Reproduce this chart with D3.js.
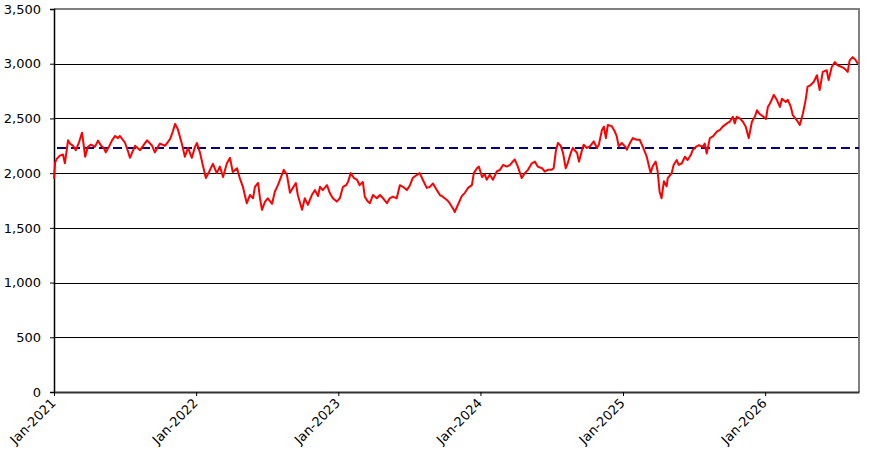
<!DOCTYPE html>
<html><head><meta charset="utf-8">
<script src="https://cdn.jsdelivr.net/npm/d3@7"></script>
<style>body{margin:0;background:#fff}svg{display:block}text{font-family:"DejaVu Sans",Verdana,sans-serif}</style>
</head><body><svg id="c" width="883" height="467"></svg>
<script>
const dates = ["2021-01-01","2021-01-04","2021-01-08","2021-01-16","2021-01-24","2021-01-29","2021-02-06","2021-02-11","2021-02-19","2021-02-26","2021-03-06","2021-03-14","2021-03-22","2021-03-29","2021-04-06","2021-04-16","2021-04-24","2021-05-02","2021-05-09","2021-05-14","2021-05-22","2021-05-30","2021-06-07","2021-06-14","2021-06-19","2021-07-02","2021-07-10","2021-07-15","2021-07-28","2021-08-10","2021-08-20","2021-08-28","2021-09-10","2021-09-17","2021-09-30","2021-10-13","2021-10-26","2021-11-02","2021-11-08","2021-11-15","2021-11-26","2021-12-03","2021-12-11","2021-12-21","2021-12-29",
"2022-01-03","2022-01-11","2022-01-18","2022-01-26","2022-02-03","2022-02-13","2022-02-23","2022-03-03","2022-03-11","2022-03-21","2022-03-29","2022-04-05","2022-04-16","2022-04-23","2022-05-01","2022-05-11","2022-05-19","2022-05-27","2022-06-01","2022-06-09","2022-06-14","2022-06-19","2022-06-27","2022-07-04","2022-07-15","2022-07-22","2022-07-30","2022-08-09","2022-08-14","2022-08-22","2022-08-30","2022-09-06","2022-09-14","2022-09-19","2022-09-30","2022-10-07","2022-10-15","2022-10-25","2022-11-02","2022-11-10","2022-11-15","2022-11-22","2022-12-03","2022-12-10","2022-12-18","2022-12-28",
"2023-01-05","2023-01-13","2023-01-21","2023-01-26","2023-02-02","2023-02-10","2023-02-18","2023-02-25","2023-03-05","2023-03-10","2023-03-18","2023-03-23","2023-03-31","2023-04-10","2023-04-18","2023-04-26","2023-05-06","2023-05-13","2023-05-21","2023-05-31","2023-06-08","2023-06-16","2023-06-26","2023-07-04","2023-07-11","2023-07-22","2023-07-29","2023-08-06","2023-08-16","2023-08-24","2023-09-01","2023-09-11","2023-09-19","2023-09-26","2023-10-07","2023-10-14","2023-10-22","2023-10-27","2023-11-04","2023-11-14","2023-11-22","2023-11-30","2023-12-10","2023-12-15","2023-12-23","2023-12-28",
"2024-01-05","2024-01-12","2024-01-17","2024-01-25","2024-02-02","2024-02-12","2024-02-20","2024-02-28","2024-03-09","2024-03-17","2024-03-24","2024-03-29","2024-04-06","2024-04-16","2024-04-24","2024-05-02","2024-05-12","2024-05-20","2024-05-27","2024-06-07","2024-06-14","2024-06-22","2024-07-02","2024-07-07","2024-07-13","2024-07-18","2024-07-25","2024-07-31","2024-08-07","2024-08-12","2024-08-20","2024-08-25","2024-09-05","2024-09-10","2024-09-17","2024-09-22","2024-09-30","2024-10-08","2024-10-18","2024-10-26","2024-10-31","2024-11-08","2024-11-13","2024-11-18","2024-11-23","2024-12-03","2024-12-11","2024-12-16","2024-12-21","2024-12-29",
"2025-01-06","2025-01-11","2025-01-19","2025-01-26","2025-02-05","2025-02-13","2025-02-21","2025-03-03","2025-03-13","2025-03-18","2025-03-26","2025-03-31","2025-04-05","2025-04-10","2025-04-16","2025-04-23","2025-04-26","2025-05-06","2025-05-11","2025-05-19","2025-05-24","2025-06-01","2025-06-09","2025-06-16","2025-06-24","2025-06-29","2025-07-07","2025-07-15","2025-07-25","2025-07-30","2025-08-04","2025-08-12","2025-08-20","2025-08-30","2025-09-07","2025-09-14","2025-09-25","2025-10-02","2025-10-10","2025-10-15","2025-10-20","2025-10-28","2025-11-05","2025-11-12","2025-11-20","2025-11-28","2025-12-06","2025-12-11","2025-12-18","2025-12-26",
"2026-01-03","2026-01-08","2026-01-13","2026-01-18","2026-01-23","2026-01-31","2026-02-08","2026-02-13","2026-02-23","2026-02-28","2026-03-08","2026-03-13","2026-03-23","2026-03-31","2026-04-08","2026-04-15","2026-04-20","2026-04-28","2026-05-06","2026-05-14","2026-05-21","2026-05-29","2026-06-08","2026-06-13","2026-06-21","2026-06-29","2026-07-06","2026-07-17","2026-07-24","2026-08-01","2026-08-06","2026-08-14","2026-08-22","2026-08-27"];
const values = [1950,2100,2130,2160,2170,2090,2300,2270,2250,2210,2280,2370,2150,2240,2260,2240,2297,2250,2230,2190,2240,2300,2340,2320,2340,2280,2200,2140,2250,2210,2260,2300,2250,2190,2270,2250,2310,2380,2450,2400,2260,2150,2230,2140,2240,
2275,2185,2075,1955,2010,2085,2000,2060,1965,2090,2140,2010,2045,1955,1875,1725,1800,1770,1875,1910,1770,1665,1740,1770,1720,1830,1890,1985,2030,1985,1820,1865,1910,1800,1665,1770,1710,1800,1845,1790,1875,1845,1890,1820,1770,1740,
1770,1875,1890,1920,2000,1955,1940,1890,1920,1785,1740,1725,1800,1770,1800,1770,1725,1770,1785,1770,1890,1875,1845,1890,1955,1985,2000,1940,1865,1875,1905,1845,1800,1785,1755,1725,1680,1645,1710,1790,1820,1865,1890,2000,2045,2060,
1965,1990,1940,1985,1940,2015,2030,2075,2060,2075,2105,2125,2060,1955,2000,2030,2090,2105,2060,2045,2015,2030,2030,2045,2210,2275,2250,2185,2045,2090,2185,2230,2185,2105,2200,2260,2230,2245,2290,2230,2260,2395,2425,2320,2440,2430,2380,2335,2245,2275,
2245,2215,2275,2320,2305,2305,2240,2150,2000,2060,2105,2015,1830,1770,1925,1880,1955,2000,2075,2120,2075,2090,2150,2120,2165,2210,2240,2255,2240,2270,2180,2320,2335,2380,2395,2425,2455,2470,2515,2455,2515,2500,2470,2425,2320,2470,2520,2575,2540,2520,
2495,2605,2635,2670,2715,2670,2605,2680,2650,2670,2605,2530,2485,2440,2545,2670,2790,2805,2835,2895,2760,2925,2940,2850,2970,3015,2985,2970,2955,2925,3030,3060,3030,3000];
const referenceLevel = 2230;
const yTicks = [0,500,1000,1500,2000,2500,3000,3500];
const xTickLabels = ["Jan-2021","Jan-2022","Jan-2023","Jan-2024","Jan-2025","Jan-2026"];
const xTickDates = ["2021-01-01","2022-01-01","2023-01-01","2024-01-01","2025-01-01","2026-01-01"];
const domainStart = "2021-01-01", domainEnd = "2026-08-30";

const parse = d3.utcParse("%Y-%m-%d");
const data = dates.map((d,i)=>({date:parse(d), value:values[i]}));
const svg = d3.select("#c");
const L=54, R=859, T=9, B=392;
const x = d3.scaleUtc().domain([parse(domainStart), parse(domainEnd)]).range([L,R]);
const y = d3.scaleLinear().domain([0,3500]).range([B,T]);

// gridlines
svg.append("g").selectAll("line").data(yTicks.filter(v=>v>0 && v<3500)).join("line")
  .attr("x1",L).attr("x2",R).attr("y1",d=>Math.round(y(d))+0.5).attr("y2",d=>Math.round(y(d))+0.5)
  .attr("stroke","#000").attr("stroke-width",1);
// top & right frame
svg.append("line").attr("x1",L).attr("x2",R+1).attr("y1",y(3500)).attr("y2",y(3500)).attr("stroke","#808080").attr("stroke-width",2);
svg.append("line").attr("x1",R).attr("x2",R).attr("y1",y(3500)).attr("y2",B).attr("stroke","#808080").attr("stroke-width",2);

// y axis
const ya = svg.append("g").attr("transform",`translate(${L},0)`)
  .call(d3.axisLeft(y).tickValues(yTicks).tickFormat(d3.format(",")).tickSize(4).tickPadding(9));
ya.select(".domain").attr("stroke","#000").attr("stroke-width",1.5);
ya.selectAll(".tick line").attr("stroke","#000");
ya.selectAll(".tick text").attr("font-size",13).attr("fill","#000").attr("font-family","DejaVu Sans");

// x axis
const xa = svg.append("g").attr("transform",`translate(0,${B})`)
  .call(d3.axisBottom(x).tickValues(xTickDates.map(parse)).tickFormat((d,i)=>xTickLabels[i]).tickSize(4).tickSizeOuter(0));
xa.select(".domain").attr("stroke","#333").attr("stroke-width",2);
xa.selectAll(".tick line").attr("stroke","#000");
xa.selectAll(".tick text").attr("font-size",13).attr("fill","#000").attr("font-family","DejaVu Sans")
  .attr("text-anchor","end").attr("dy",0).attr("y",0)
  .attr("transform","translate(2,12) rotate(-45)");

// reference dashed line
svg.append("line").attr("x1",L+3).attr("x2",R).attr("y1",y(referenceLevel)).attr("y2",y(referenceLevel))
  .attr("stroke","#000080").attr("stroke-width",2).attr("stroke-dasharray","9,5");

// series
svg.append("path").datum(data).attr("fill","none").attr("stroke","#ff0000").attr("stroke-width",2)
  .attr("stroke-linejoin","round")
  .attr("d",d3.line().x(d=>x(d.date)).y(d=>y(d.value)));
</script></body></html>
